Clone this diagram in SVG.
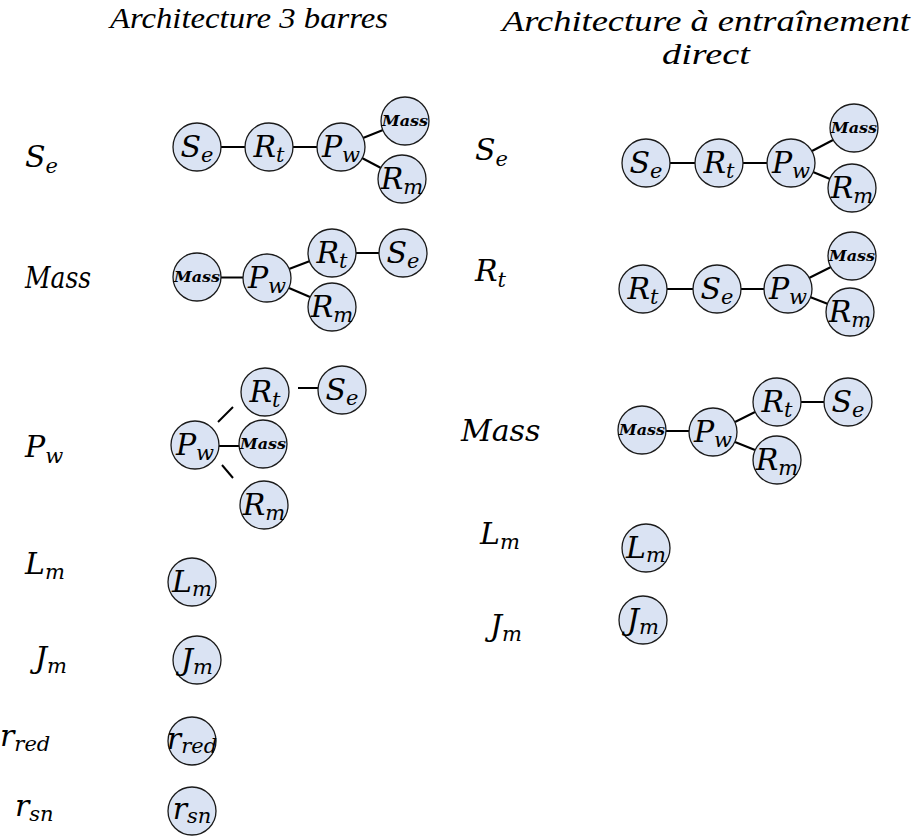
<svg xmlns="http://www.w3.org/2000/svg" width="913" height="837" viewBox="0 0 913 837">
<style>
.title{font-family:"Liberation Serif","DejaVu Serif",serif;font-style:italic;font-size:30px;fill:#000}
.m{font-family:"DejaVu Serif","Liberation Serif",serif;font-style:italic;font-size:30px;fill:#000}
.s{font-size:21px}
.mass{font-family:"DejaVu Serif","Liberation Serif",serif;font-style:italic;font-weight:bold;font-size:15px;fill:#000}
.n circle{fill:#dae3f3;stroke:#1a1a1a;stroke-width:1.3}
#connectors line{stroke:#000;stroke-width:2}
</style>
<rect width="913" height="837" fill="#fff"/>
<g id="titles">
<text class="title" x="249" y="28" text-anchor="middle" textLength="278" lengthAdjust="spacingAndGlyphs">Architecture 3 barres</text>
<text class="title" x="706" y="31" text-anchor="middle" textLength="408" lengthAdjust="spacingAndGlyphs">Architecture à entraînement</text>
<text class="title" x="706" y="64" text-anchor="middle" textLength="88" lengthAdjust="spacingAndGlyphs">direct</text>
</g>
<g id="labels">
<text class="m" x="25" y="167">S<tspan class="s" dy="6">e</tspan></text>
<text class="m" x="25" y="288" textLength="66" lengthAdjust="spacingAndGlyphs">Mass</text>
<text class="m" x="25" y="457">P<tspan class="s" dy="6">w</tspan></text>
<text class="m" x="25" y="574">L<tspan class="s" dy="5">m</tspan></text>
<text class="m" x="35" y="668">J<tspan class="s" dy="5">m</tspan></text>
<text class="m" x="0" y="746">r<tspan class="s" dy="5">red</tspan></text>
<text class="m" x="15" y="816">r<tspan class="s" dy="5">sn</tspan></text>
<text class="m" x="475" y="160">S<tspan class="s" dy="6">e</tspan></text>
<text class="m" x="475" y="281">R<tspan class="s" dy="6">t</tspan></text>
<text class="m" x="461" y="441">Mass</text>
<text class="m" x="480" y="544">L<tspan class="s" dy="5">m</tspan></text>
<text class="m" x="490" y="636">J<tspan class="s" dy="5">m</tspan></text>
</g>
<g id="connectors">
<line x1="221" y1="147" x2="245" y2="147"/>
<line x1="293" y1="147" x2="317" y2="147"/>
<line x1="363" y1="138" x2="383" y2="130"/>
<line x1="362" y1="158" x2="381" y2="168"/>
<line x1="221" y1="277.5" x2="243" y2="277.5"/>
<line x1="289" y1="269" x2="310" y2="261"/>
<line x1="289" y1="288" x2="310" y2="297"/>
<line x1="356" y1="253" x2="379" y2="253"/>
<line x1="218" y1="422" x2="233" y2="407"/>
<line x1="219" y1="446" x2="239" y2="446"/>
<line x1="222" y1="465" x2="233" y2="478"/>
<line x1="298" y1="388" x2="318" y2="388"/>
<line x1="670" y1="163" x2="695" y2="163"/>
<line x1="743" y1="163" x2="767" y2="163"/>
<line x1="812" y1="151" x2="833" y2="140"/>
<line x1="813" y1="172" x2="830" y2="179"/>
<line x1="667" y1="289" x2="693" y2="289"/>
<line x1="741" y1="289" x2="764" y2="289"/>
<line x1="809" y1="278" x2="831" y2="267"/>
<line x1="810" y1="297" x2="828" y2="304"/>
<line x1="666" y1="431" x2="689" y2="431"/>
<line x1="735" y1="422" x2="755" y2="412"/>
<line x1="735" y1="442" x2="755" y2="450"/>
<line x1="801" y1="402" x2="824" y2="402"/>
</g>
<g id="n_l1_Se" class="n"><circle cx="197" cy="147" r="24"/><text class="m" x="197" y="157" text-anchor="middle">S<tspan class="s" dy="5">e</tspan></text></g>
<g id="n_l1_Rt" class="n"><circle cx="269" cy="147" r="24"/><text class="m" x="269" y="157" text-anchor="middle">R<tspan class="s" dy="5">t</tspan></text></g>
<g id="n_l1_Pw" class="n"><circle cx="341" cy="147" r="24"/><text class="m" x="341" y="157" text-anchor="middle">P<tspan class="s" dy="5">w</tspan></text></g>
<g id="n_l1_Mass" class="n"><circle cx="405" cy="121" r="24"/><text class="mass" x="405" y="126" text-anchor="middle" textLength="46" lengthAdjust="spacingAndGlyphs">Mass</text></g>
<g id="n_l1_Rm" class="n"><circle cx="402" cy="179" r="24"/><text class="m" x="402" y="189" text-anchor="middle">R<tspan class="s" dy="5">m</tspan></text></g>

<g id="n_l2_Mass" class="n"><circle cx="197" cy="277" r="24"/><text class="mass" x="197" y="282" text-anchor="middle" textLength="46" lengthAdjust="spacingAndGlyphs">Mass</text></g>
<g id="n_l2_Pw" class="n"><circle cx="267" cy="278" r="24"/><text class="m" x="267" y="288" text-anchor="middle">P<tspan class="s" dy="5">w</tspan></text></g>
<g id="n_l2_Rt" class="n"><circle cx="332" cy="253" r="24"/><text class="m" x="332" y="263" text-anchor="middle">R<tspan class="s" dy="5">t</tspan></text></g>
<g id="n_l2_Se" class="n"><circle cx="403" cy="253" r="24"/><text class="m" x="403" y="263" text-anchor="middle">S<tspan class="s" dy="5">e</tspan></text></g>
<g id="n_l2_Rm" class="n"><circle cx="332" cy="307" r="24"/><text class="m" x="332" y="317" text-anchor="middle">R<tspan class="s" dy="5">m</tspan></text></g>

<g id="n_l3_Pw" class="n"><circle cx="195" cy="445" r="24"/><text class="m" x="195" y="455" text-anchor="middle">P<tspan class="s" dy="5">w</tspan></text></g>
<g id="n_l3_Rt" class="n"><circle cx="265" cy="392" r="24"/><text class="m" x="265" y="402" text-anchor="middle">R<tspan class="s" dy="5">t</tspan></text></g>
<g id="n_l3_Se" class="n"><circle cx="342" cy="390" r="24"/><text class="m" x="342" y="400" text-anchor="middle">S<tspan class="s" dy="5">e</tspan></text></g>
<g id="n_l3_Mass" class="n"><circle cx="263" cy="444" r="24"/><text class="mass" x="263" y="449" text-anchor="middle" textLength="46" lengthAdjust="spacingAndGlyphs">Mass</text></g>
<g id="n_l3_Rm" class="n"><circle cx="264" cy="505" r="24"/><text class="m" x="264" y="515" text-anchor="middle">R<tspan class="s" dy="5">m</tspan></text></g>

<g id="n_l_Lm" class="n"><circle cx="192" cy="582" r="24"/><text class="m" x="192" y="592" text-anchor="middle">L<tspan class="s" dy="4">m</tspan></text></g>
<g id="n_l_Jm" class="n"><circle cx="197" cy="660" r="24"/><text class="m" x="197" y="670" text-anchor="middle">J<tspan class="s" dy="4">m</tspan></text></g>
<g id="n_l_rred" class="n"><circle cx="192" cy="741" r="24"/><text class="m" x="192" y="749" text-anchor="middle">r<tspan class="s" dy="4">red</tspan></text></g>
<g id="n_l_rsn" class="n"><circle cx="192" cy="811" r="24"/><text class="m" x="192" y="819" text-anchor="middle">r<tspan class="s" dy="4">sn</tspan></text></g>

<g id="n_r1_Se" class="n"><circle cx="646" cy="163" r="24"/><text class="m" x="646" y="173" text-anchor="middle">S<tspan class="s" dy="5">e</tspan></text></g>
<g id="n_r1_Rt" class="n"><circle cx="719" cy="163" r="24"/><text class="m" x="719" y="173" text-anchor="middle">R<tspan class="s" dy="5">t</tspan></text></g>
<g id="n_r1_Pw" class="n"><circle cx="791" cy="163" r="24"/><text class="m" x="791" y="173" text-anchor="middle">P<tspan class="s" dy="5">w</tspan></text></g>
<g id="n_r1_Mass" class="n"><circle cx="854" cy="128" r="24"/><text class="mass" x="854" y="133" text-anchor="middle" textLength="46" lengthAdjust="spacingAndGlyphs">Mass</text></g>
<g id="n_r1_Rm" class="n"><circle cx="852" cy="188" r="24"/><text class="m" x="852" y="198" text-anchor="middle">R<tspan class="s" dy="5">m</tspan></text></g>

<g id="n_r2_Rt" class="n"><circle cx="643" cy="289" r="24"/><text class="m" x="643" y="299" text-anchor="middle">R<tspan class="s" dy="5">t</tspan></text></g>
<g id="n_r2_Se" class="n"><circle cx="717" cy="289" r="24"/><text class="m" x="717" y="299" text-anchor="middle">S<tspan class="s" dy="5">e</tspan></text></g>
<g id="n_r2_Pw" class="n"><circle cx="788" cy="289" r="24"/><text class="m" x="788" y="299" text-anchor="middle">P<tspan class="s" dy="5">w</tspan></text></g>
<g id="n_r2_Mass" class="n"><circle cx="852" cy="256" r="24"/><text class="mass" x="852" y="261" text-anchor="middle" textLength="46" lengthAdjust="spacingAndGlyphs">Mass</text></g>
<g id="n_r2_Rm" class="n"><circle cx="850" cy="312" r="24"/><text class="m" x="850" y="322" text-anchor="middle">R<tspan class="s" dy="5">m</tspan></text></g>

<g id="n_r3_Mass" class="n"><circle cx="642" cy="430" r="24"/><text class="mass" x="642" y="435" text-anchor="middle" textLength="46" lengthAdjust="spacingAndGlyphs">Mass</text></g>
<g id="n_r3_Pw" class="n"><circle cx="713" cy="432" r="24"/><text class="m" x="713" y="442" text-anchor="middle">P<tspan class="s" dy="5">w</tspan></text></g>
<g id="n_r3_Rt" class="n"><circle cx="777" cy="402" r="24"/><text class="m" x="777" y="412" text-anchor="middle">R<tspan class="s" dy="5">t</tspan></text></g>
<g id="n_r3_Se" class="n"><circle cx="848" cy="402" r="24"/><text class="m" x="848" y="412" text-anchor="middle">S<tspan class="s" dy="5">e</tspan></text></g>
<g id="n_r3_Rm" class="n"><circle cx="777" cy="460" r="24"/><text class="m" x="777" y="470" text-anchor="middle">R<tspan class="s" dy="5">m</tspan></text></g>

<g id="n_r_Lm" class="n"><circle cx="646" cy="548" r="24"/><text class="m" x="646" y="558" text-anchor="middle">L<tspan class="s" dy="4">m</tspan></text></g>
<g id="n_r_Jm" class="n"><circle cx="643" cy="620" r="24"/><text class="m" x="643" y="630" text-anchor="middle">J<tspan class="s" dy="4">m</tspan></text></g>
</svg>
